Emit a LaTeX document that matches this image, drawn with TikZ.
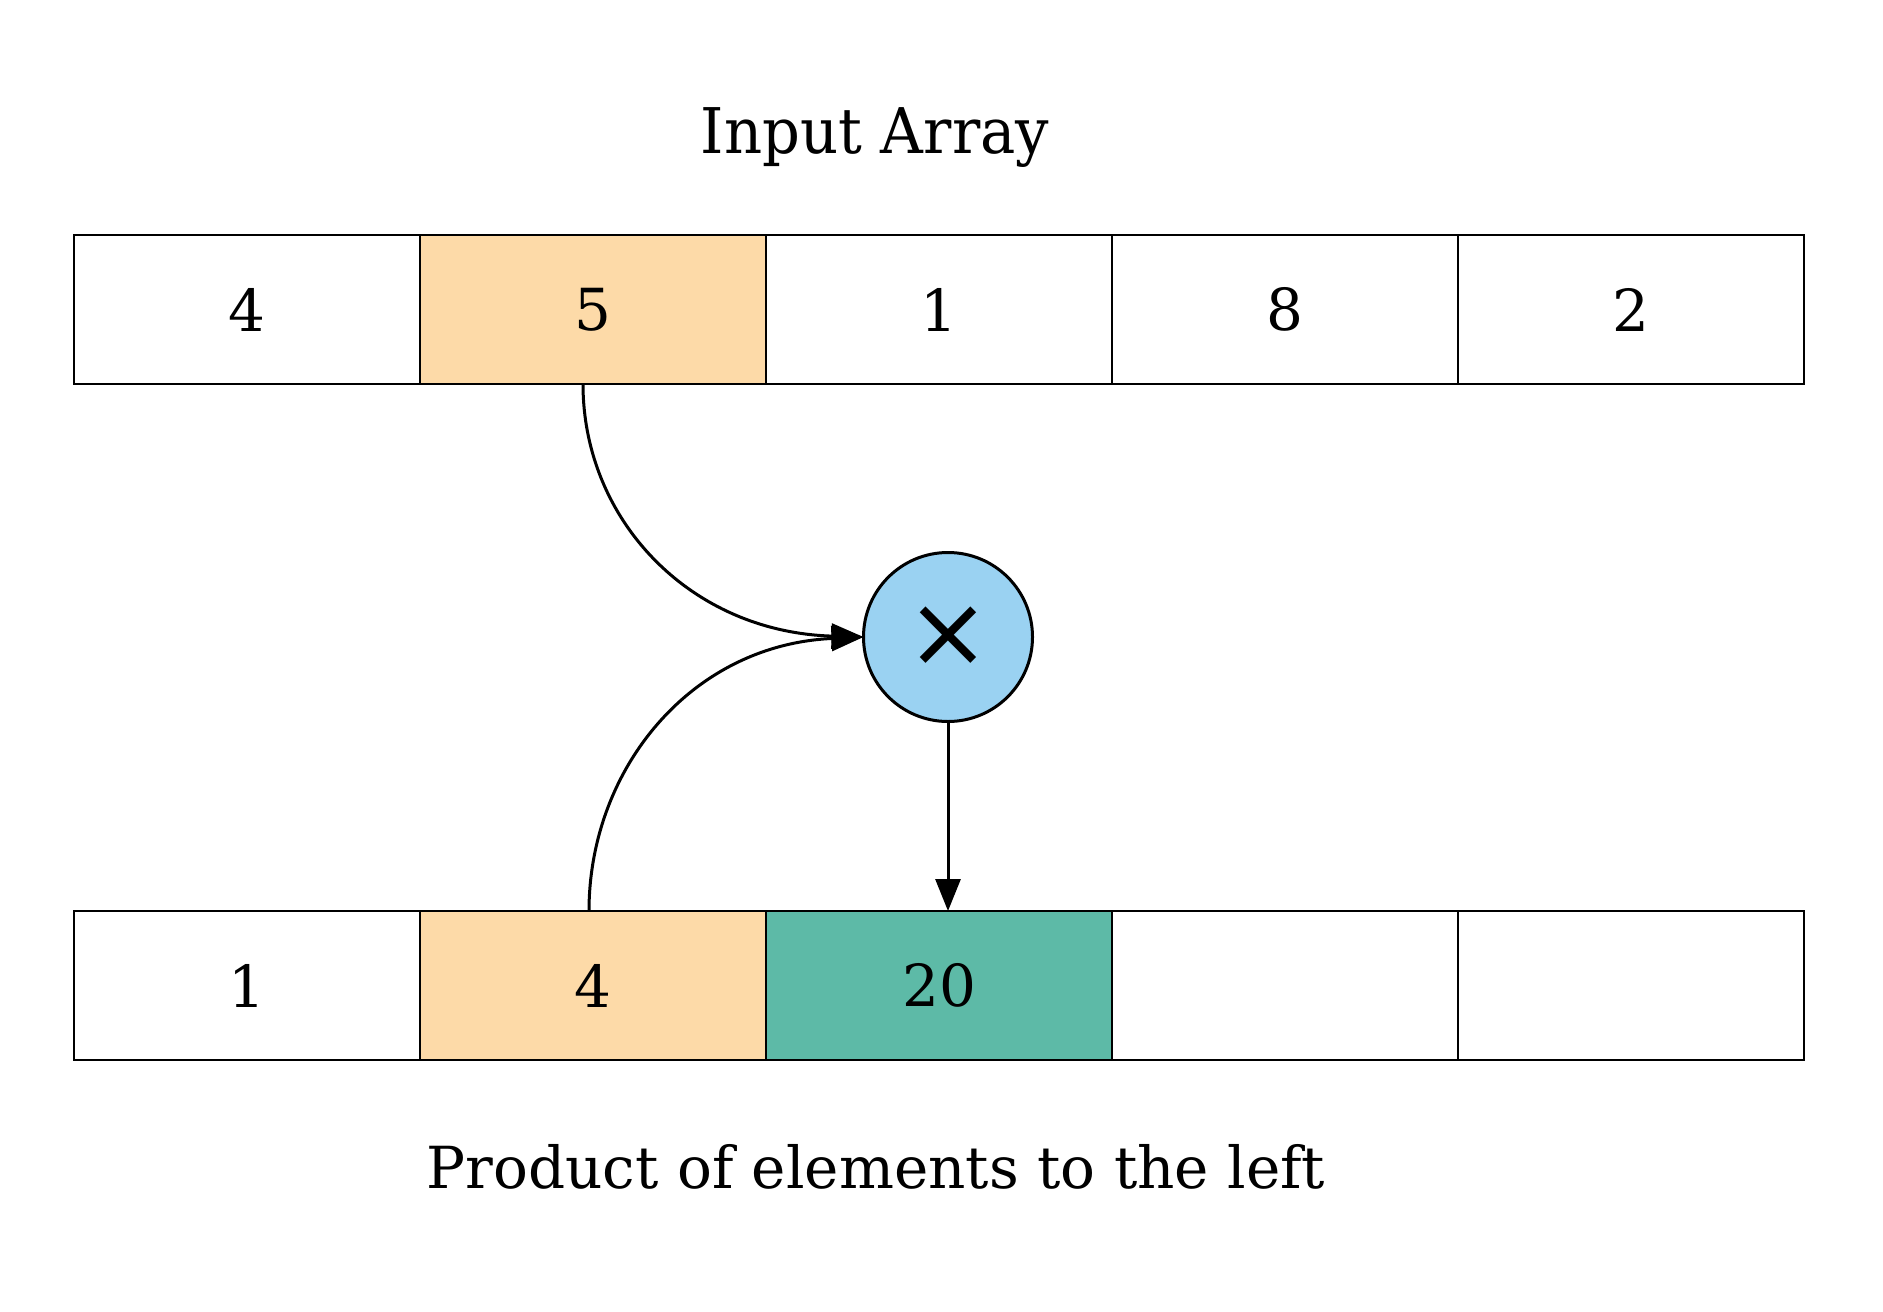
\documentclass[tikz,border=0pt]{standalone}
\usepackage{fontspec}
\setmainfont{DejaVu Serif}
\newfontfamily\symfont{DejaVu Sans}
\newfontfamily\titlefont[FakeStretch=0.94]{DejaVu Serif}
\usetikzlibrary{arrows.meta}
\definecolor{hlorange}{HTML}{FDDAA8}
\definecolor{hlteal}{HTML}{5DBAA7}
\definecolor{hlblue}{HTML}{9AD2F2}
\tikzset{
  cell/.style={draw=black, line width=1pt, rectangle, minimum width=173pt, minimum height=74.5pt, inner sep=0pt, outer sep=0pt, font=\fontsize{29}{29}\selectfont},
  lbl/.style={font=\fontsize{29}{35}\selectfont, inner sep=0pt, anchor=base},
  opnode/.style={draw=black, line width=1.5pt, circle, fill=hlblue, minimum size=84.5pt, inner sep=0pt, outer sep=0pt},
  conn/.style={line width=1.5pt, -{Triangle[length=16pt,width=12.5pt]}}
}
\begin{document}
\begin{tikzpicture}[x=0.5pt,y=-0.5pt]
\useasboundingbox (0,0) rectangle (1883,1311);
\node[lbl, font=\titlefont\fontsize{31.5}{36}\selectfont] (title) at (875,154) {Input Array};
\node[cell] (t1) at (247,309.5) {4};
\node[cell, fill=hlorange] (t2) at (593,309.5) {5};
\node[cell] (t3) at (939,309.5) {1};
\node[cell] (t4) at (1285,309.5) {8};
\node[cell] (t5) at (1631,309.5) {2};
\node[cell] (b1) at (247,985.5) {1};
\node[cell, fill=hlorange] (b2) at (593,985.5) {4};
\node[cell, fill=hlteal] (b3) at (939,985.5) {20};
\node[cell] (b4) at (1285,985.5) {};
\node[cell] (b5) at (1631,985.5) {};
\node[opnode] (m) at (948,637) {\symfont\fontsize{50}{50}\selectfont ×};
\node[lbl] (caption) at (876,1188) {Product of elements to the left};
\draw[conn] ([xshift=-5pt]t2.south) .. controls (583,520) and (690,632) .. (m.west);
\draw[conn] ([xshift=-2pt]b2.north) .. controls (589,770) and (690,645) .. (m.west);
\draw[conn] (m.south) -- (m.south |- b3.north);
\end{tikzpicture}
\end{document}
